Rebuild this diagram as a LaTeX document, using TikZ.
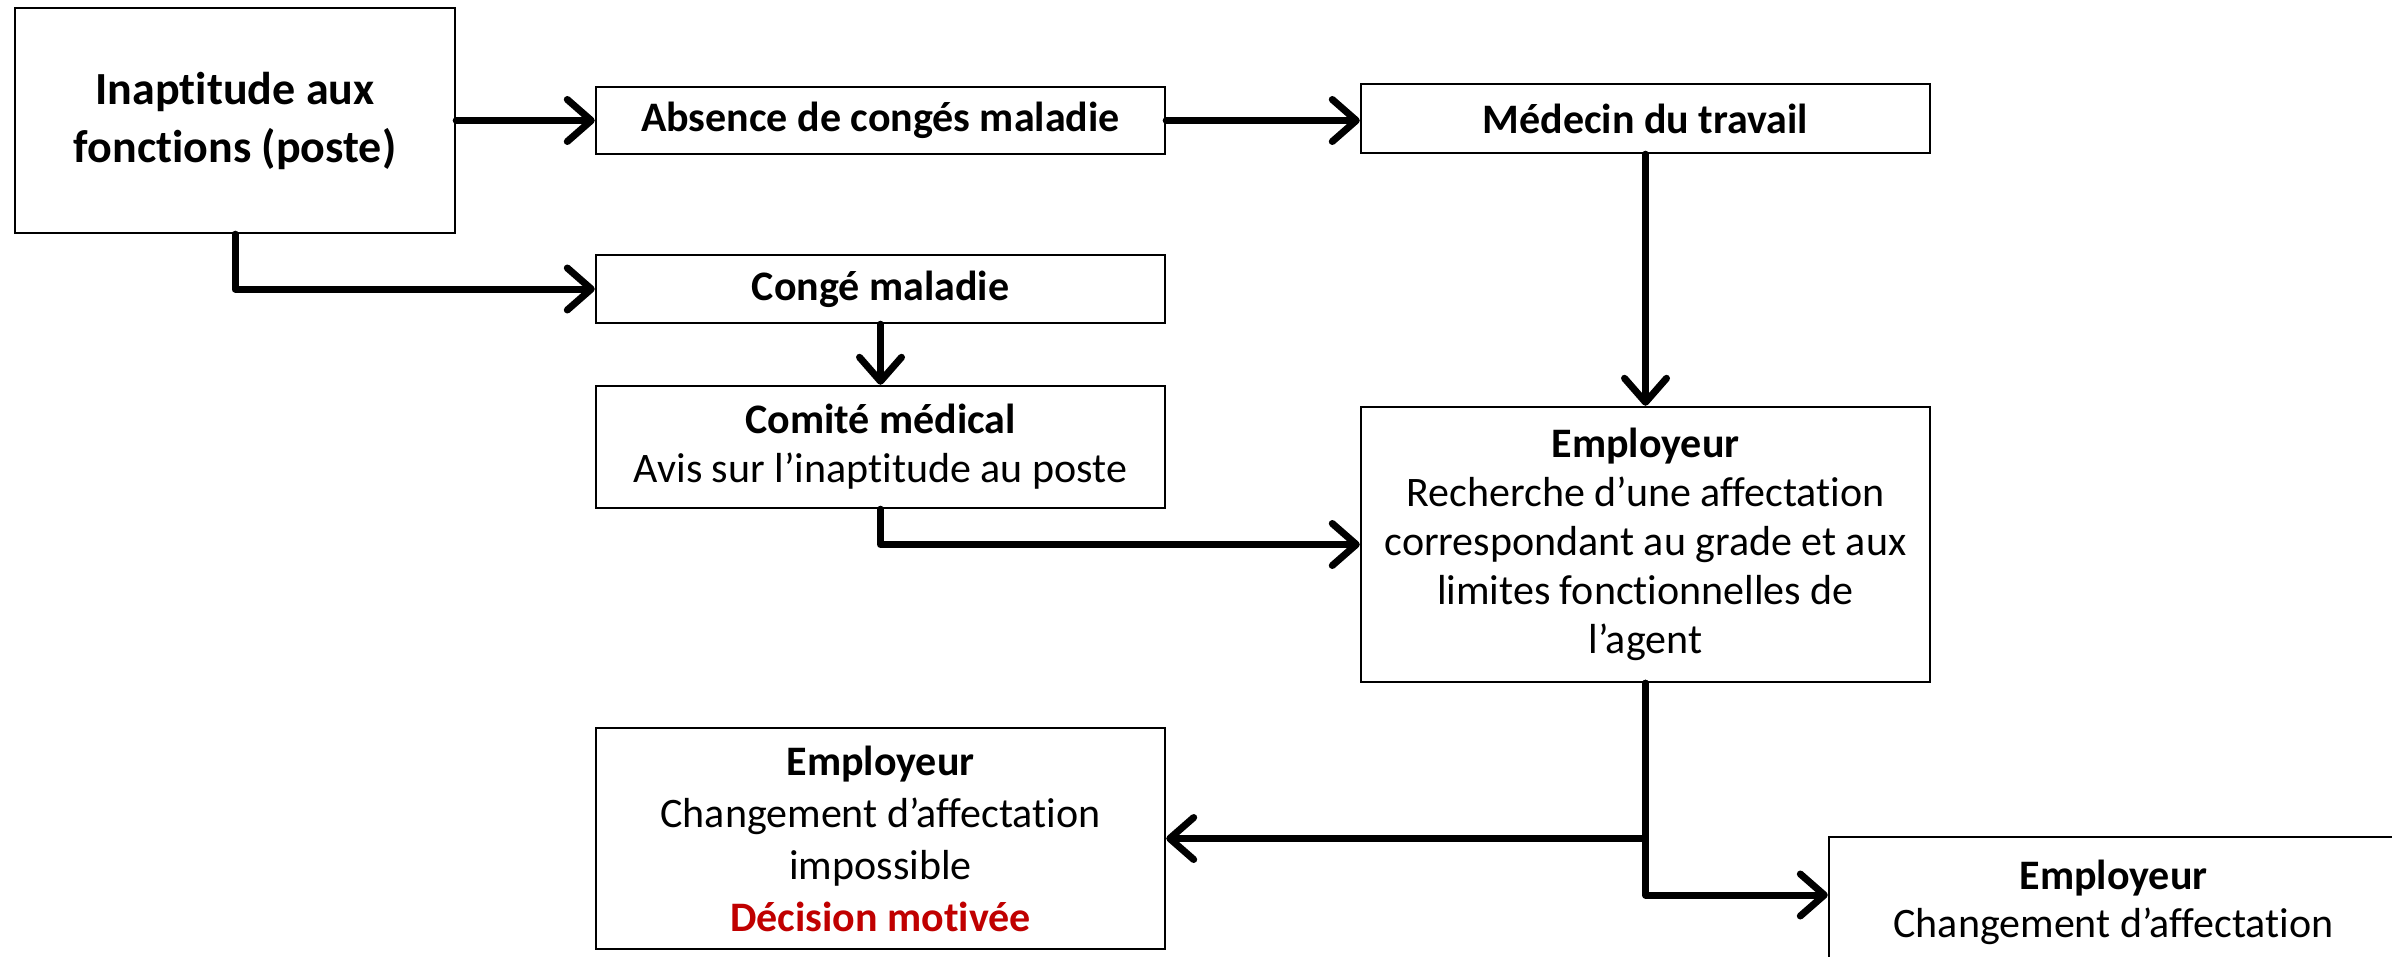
\documentclass[tikz,border=0pt]{standalone}
\usepackage{fontspec}
\setmainfont[RawFeature={-liga}]{Carlito}
\usetikzlibrary{arrows.meta}
\definecolor{decred}{HTML}{C00000}
\begin{document}
\begin{tikzpicture}[x=0.5pt,y=-0.5pt,
  box/.style={draw=black, line width=1.2pt, align=center, inner sep=0pt, fill=white},
  bodyf/.style={font=\fontsize{21}{24.5}\selectfont},
  boldf/.style={font=\bfseries\fontsize{21}{24.5}\selectfont},
  conn/.style={line width=3.5pt, line join=round, line cap=round,
    -{Straight Barb[length=12pt,width=21pt,round]}}]
\useasboundingbox (0,0) rectangle (2392,957);
\node[box, minimum width=220pt, minimum height=112.5pt, font=\bfseries\fontsize{23}{29}\selectfont] (inap) at (235,120.5) {Inaptitude aux\\fonctions (poste)};
\node[box, boldf, minimum width=284.5pt, minimum height=33.5pt] (abs) at (880.5,120.5) {Absence de congés maladie};
\node[box, boldf, minimum width=284.5pt, minimum height=34.5pt] (med) at (1645.5,118.5) {Médecin du travail};
\node[box, boldf, minimum width=284.5pt, minimum height=34pt] (conge) at (880.5,289) {Congé maladie};
\node[box, bodyf, minimum width=284.5pt, minimum height=61pt] (comite) at (880.5,447) {\textbf{Comité médical}\\Avis sur l’inaptitude au poste};
\node[box, bodyf, minimum width=284.5pt, minimum height=137.5pt] (emp) at (1645.5,544.5) {\textbf{Employeur}\\Recherche d’une affectation\\correspondant au grade et aux\\limites fonctionnelles de\\l’agent};
\node[box, font=\fontsize{21}{26}\selectfont, minimum width=284.5pt, minimum height=110.5pt] (empL) at (880.5,838.5) {\textbf{Employeur}\\Changement d’affectation\\impossible\\\textcolor{decred}{\textbf{Décision motivée}}};
\node[box, font=\fontsize{21}{24}\selectfont, minimum width=284.5pt, minimum height=117pt, anchor=north] (empR) at (2113.5,836) {\textbf{Employeur}\\Changement d’affectation\\\strut\\\strut};
\draw[conn] (inap.east |- abs.west) -- (abs.west);
\draw[conn] (abs.east) -- (abs.east -| med.west);
\draw[conn] (inap.south) |- (conge.west);
\draw[conn] (conge.south) -- (comite.north);
\draw[conn] (comite.south) |- (emp.west);
\draw[conn] (med.south) -- (emp.north);
\draw[conn] (emp.south) |- (empL.east);
\draw[conn] (emp.south) |- ([yshift=-29.5pt]empR.north west);
\end{tikzpicture}
\end{document}
